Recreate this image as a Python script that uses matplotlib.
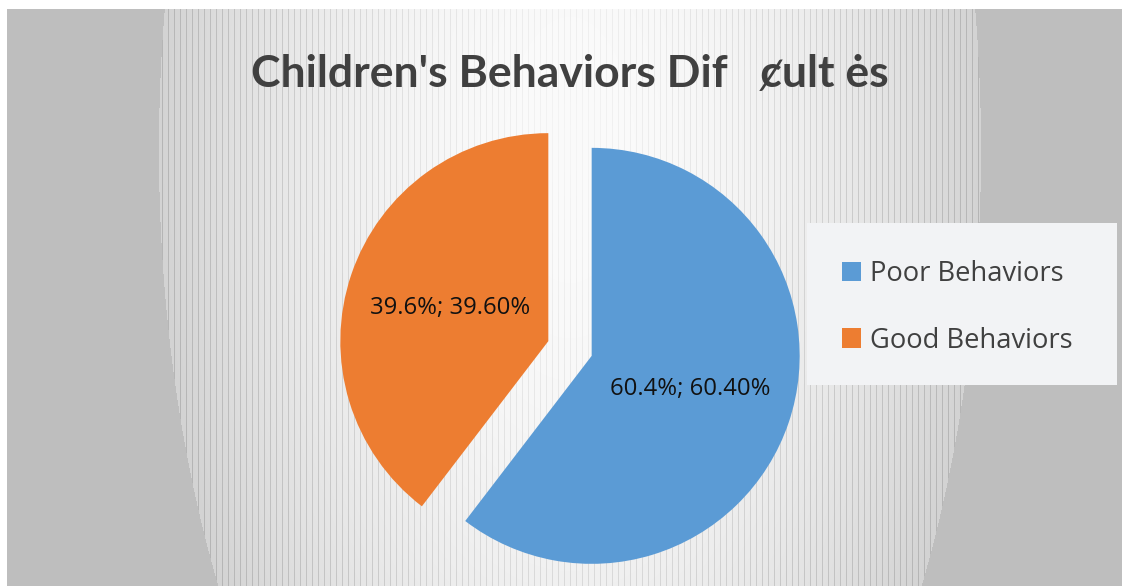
import numpy as np
import matplotlib
matplotlib.use("Agg")
import matplotlib.pyplot as plt
from matplotlib.patches import Rectangle

# ---- data ----
categories = ["Poor Behaviors", "Good Behaviors"]
values = [60.4, 39.6]
colors = ["#5B9BD5", "#ED7D31"]
title_text = "Children's Behaviors Dif   \u023Cult \u0117s"

W, H = 1122, 586
fig = plt.figure(figsize=(W / 100, H / 100), dpi=100)
fig.patch.set_facecolor("white")

# ---- background (grey with radial light area and vertical hatch texture) ----
x0, y0 = 7, 9
xs = np.arange(x0, W) + 0.5
ys = np.arange(y0, H) + 0.5
X, Y = np.meshgrid(xs, ys)
r = np.sqrt(((X - 570) / 411.0) ** 2 + ((Y - 150) / 842.0) ** 2)
inside = r < 1
val = np.full(X.shape, 190.0)
g = 251 - 40 * r ** 2
val[inside] = g[inside]
stripe = (np.floor(X - 570) % 6 == 0) & inside
val[stripe] -= 30 * np.clip(r[stripe] * 1.1 + 0.2, 0, 1)
img = np.clip(val, 0, 255).astype(np.uint8)
img = np.dstack([img, img, img])
ax_bg = fig.add_axes([x0 / W, 0, (W - x0) / W, (H - y0) / H])
ax_bg.imshow(img, extent=[x0, W, H, y0], aspect="auto", interpolation="nearest")
ax_bg.set_xlim(x0, W)
ax_bg.set_ylim(H, y0)
ax_bg.axis("off")

# ---- pie ----
R = 208.0          # radius in pixels
cx, cy = 570.0, 348.5
half = 235.0
ax = fig.add_axes([(cx - half) / W, (H - cy - half) / H, 2 * half / W, 2 * half / H])
ax.set_facecolor("none")
wedges, texts, autotexts = ax.pie(
    values, colors=colors, startangle=90, counterclock=False,
    explode=[0.11, 0.11], radius=1.0,
    autopct=lambda p: f"{p:.1f}%; {p:.2f}%", pctdistance=0.5,
    textprops=dict(fontsize=17.2, family=["Open Sans", "DejaVu Sans"], color="#111111"),
    wedgeprops=dict(linewidth=0),
)
lim = half / R
ax.set_xlim(-lim, lim)
ax.set_ylim(-lim, lim)
ax.axis("off")

# ---- title ----
fig.text(570 / W, 1 - 87 / H, title_text, ha="center", va="baseline",
         fontsize=32, fontweight="bold", color="#404040",
         family=["Lato", "DejaVu Sans"])

# ---- legend ----
fig.patches.append(Rectangle((807 / W, 1 - 385 / H), 310 / W, 162 / H,
                             transform=fig.transFigure, facecolor="#F2F3F5",
                             edgecolor="none", zorder=1))
leg = fig.legend(wedges, categories, loc="upper left",
                 bbox_to_anchor=(828 / W, 1 - 246 / H),
                 frameon=False,
                 prop=dict(family=["Open Sans", "DejaVu Sans"], size=19.7),
                 handlelength=0.7, handleheight=0.7, handletextpad=0.35,
                 labelspacing=1.42, borderpad=0)
for t in leg.get_texts():
    t.set_color("#404040")

fig.savefig("out.png", dpi=100)
